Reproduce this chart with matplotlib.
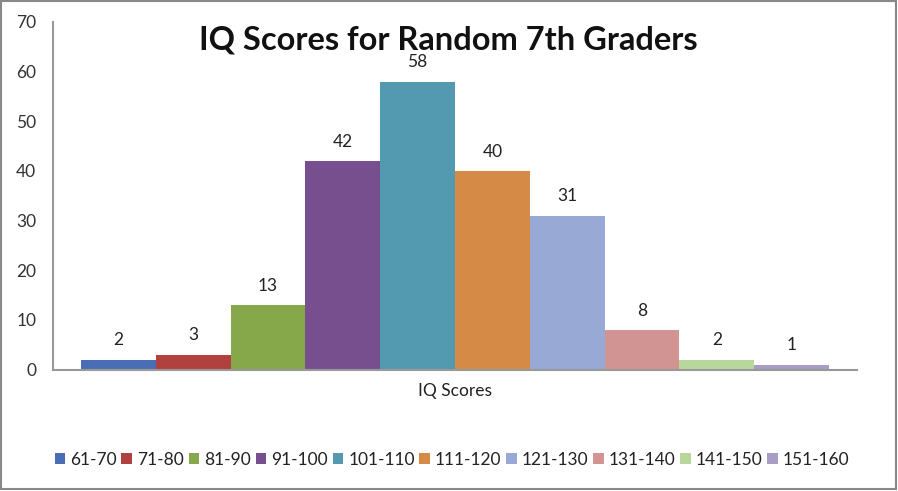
import matplotlib
matplotlib.use("Agg")
import matplotlib.pyplot as plt
from matplotlib.patches import Rectangle, Patch

categories = ["61-70", "71-80", "81-90", "91-100", "101-110", "111-120",
              "121-130", "131-140", "141-150", "151-160"]
counts = [2, 3, 13, 42, 58, 40, 31, 8, 2, 1]
colors = ["#4A6EB5", "#B0413E", "#86A84A", "#774F8E", "#5399B0", "#D58B46",
          "#97A9D4", "#D29393", "#B9D79A", "#A99CC5"]
yticks = [0, 10, 20, 30, 40, 50, 60, 70]

plt.rcParams['font.family'] = ['Lato', 'DejaVu Sans']
W, H = 898, 491
fig = plt.figure(figsize=(W / 100, H / 100), dpi=100)

ax = fig.add_axes([53 / W, 1 - 369.5 / H, (857 - 53) / W, (369.5 - 22) / H])
xs = list(range(len(categories)))
bars = ax.bar(xs, counts, width=1.0, color=colors, edgecolor='none', zorder=2)
for x, v in zip(xs, counts):
    ax.annotate(str(v), (x, v), xytext=(0, 8), textcoords='offset points',
                ha='center', va='bottom', fontsize=12.5, color='#222222')

ax.set_xlim(-0.5 - 0.374, len(categories) - 0.5 + 0.374)
ax.set_ylim(0, 70)
ax.set_yticks(yticks)
ax.tick_params(axis='y', length=0, pad=12, labelsize=12.5, labelcolor='#333333')
ax.set_xticks([])
for s in ['top', 'right']:
    ax.spines[s].set_visible(False)
for s in ['left', 'bottom']:
    ax.spines[s].set_color('#999999')
    ax.spines[s].set_linewidth(1.5)
ax.set_xlabel("IQ Scores", fontsize=12.5, color='#222222', labelpad=10)

fig.text(448 / W, 1 - 40 / H, "IQ Scores for Random 7th Graders", ha='center',
         va='center', fontsize=23.5, fontweight='bold', color='#111111')

handles = [Patch(facecolor=c, edgecolor='none') for c in colors]
fig.legend(handles, categories, loc='center', bbox_to_anchor=(452 / W, 1 - 460 / H),
           ncol=10, frameon=False, fontsize=12.5, handlelength=0.6, handleheight=0.6,
           handletextpad=0.3, columnspacing=0.27, labelcolor='#222222')

fig.add_artist(Rectangle((1 / W, 1 - 489 / H), (896 - 1) / W, (489 - 1) / H,
                         transform=fig.transFigure, fill=False,
                         edgecolor='#888888', linewidth=1.5))

fig.savefig("out.png", dpi=100)
